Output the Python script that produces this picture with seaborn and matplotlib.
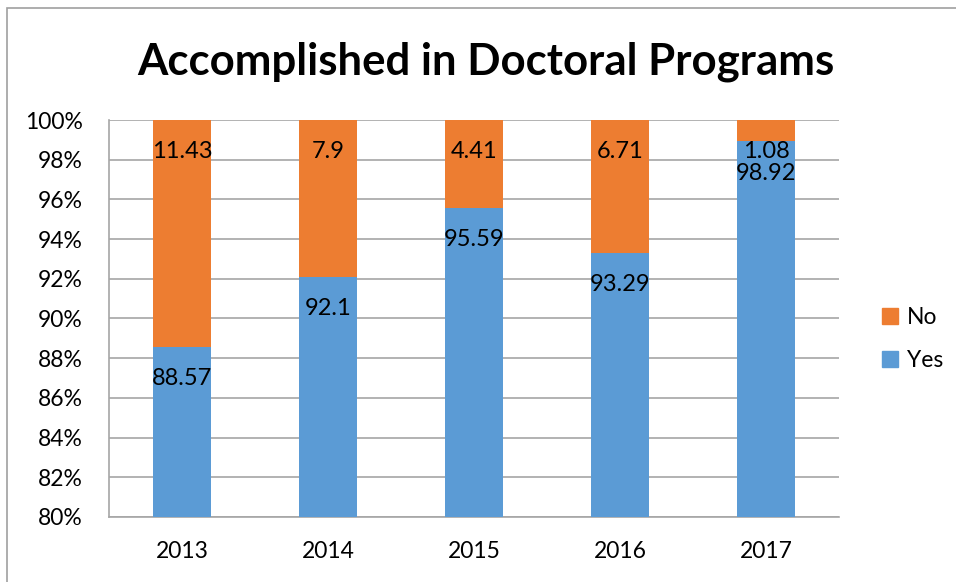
import matplotlib
matplotlib.use("Agg")
import matplotlib.pyplot as plt
import matplotlib.patches as mpatches
from matplotlib.ticker import FuncFormatter, MultipleLocator, FixedLocator
import seaborn as sns
import pandas as pd

years = ["2013", "2014", "2015", "2016", "2017"]
yes = [88.57, 92.1, 95.59, 93.29, 98.92]
no = [11.43, 7.9, 4.41, 6.71, 1.08]

blue = "#5B9BD5"
orange = "#ED7D31"
grid_gray = "#A6A6A6"

sns.set_style("white")
plt.rcParams["font.family"] = ["Lato", "DejaVu Sans"]
plt.rcParams["text.color"] = "black"

df = pd.DataFrame({"year": years, "yes": yes, "no": no})
df["total"] = df["yes"] + df["no"]

fig = plt.figure(figsize=(9.56, 5.82), dpi=100)
ax = fig.add_axes([0.114, 0.1117, 0.7636, 0.6821])

# stacked: total (orange) behind, yes (blue) in front
sns.barplot(data=df, x="year", y="total", color=orange, width=0.4,
            saturation=1, linewidth=0, ax=ax, zorder=2)
sns.barplot(data=df, x="year", y="yes", color=blue, width=0.4,
            saturation=1, linewidth=0, ax=ax, zorder=3)

ax.set_ylim(80, 100)
ax.set_xlim(-0.5, 4.5)
ax.yaxis.set_major_locator(MultipleLocator(2))
ax.yaxis.set_major_formatter(FuncFormatter(lambda v, p: f"{v:.0f}%"))
ax.grid(axis="y", color=grid_gray, linewidth=1.2, zorder=0)
ax.set_axisbelow(True)
ax.set_xlabel("")
ax.set_ylabel("")

for side in ["top", "right"]:
    ax.spines[side].set_visible(False)
for side in ["left", "bottom"]:
    ax.spines[side].set_color(grid_gray)
    ax.spines[side].set_linewidth(1.2)

ax.tick_params(axis="y", length=9, width=1.2, color=grid_gray, pad=10,
               labelsize=16.5, labelcolor="black")
ax.tick_params(axis="x", which="major", length=0, pad=17, labelsize=16.5,
               labelcolor="black")
ax.xaxis.set_minor_locator(FixedLocator([i - 0.5 for i in range(len(years) + 1)]))
ax.tick_params(axis="x", which="minor", length=8, width=1.2, color=grid_gray,
               direction="out")

# data labels near the top of each segment
for i in range(len(years)):
    ax.text(i, yes[i] - 1.6, f"{yes[i]:g}", ha="center", va="center",
            fontsize=17, color="black", zorder=5)
    ax.text(i, yes[i] + no[i] - 1.6, f"{no[i]:g}", ha="center", va="center",
            fontsize=17, color="black", zorder=5)

fig.text(486 / 956, 1 - 62 / 582, "Accomplished in Doctoral Programs",
         ha="center", va="center", fontsize=31.5, fontweight="bold",
         color="black")

handles = [mpatches.Patch(color=orange, label="No"),
           mpatches.Patch(color=blue, label="Yes")]
fig.legend(handles=handles, loc="center left",
           bbox_to_anchor=(882 / 956, 1 - 339 / 582), frameon=False,
           fontsize=16.5, handlelength=0.7, handleheight=0.7,
           handletextpad=0.4, labelspacing=1.0, borderpad=0,
           borderaxespad=0, labelcolor="black")

# outer chart border
fig.add_artist(mpatches.Rectangle((7 / 956, -0.1), 1.2, 1 - 8 / 582 + 0.1,
                                  transform=fig.transFigure, fill=False,
                                  edgecolor="#A0A0A0", linewidth=1.2))

fig.savefig("out.png", dpi=100)
